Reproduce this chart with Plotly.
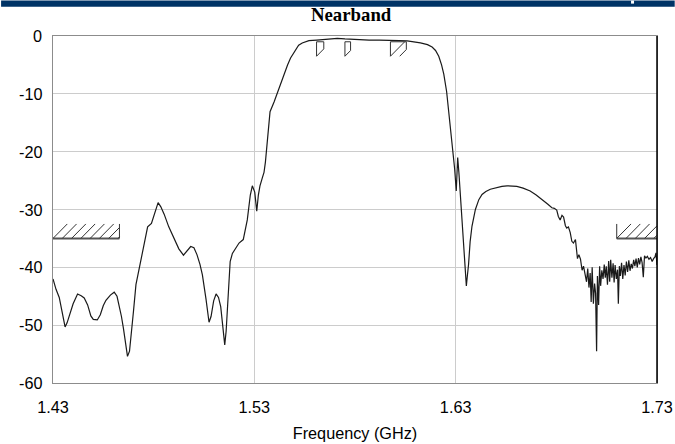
import plotly.graph_objects as go

# ---------------- data ----------------
freq = [1.4300, 1.4315, 1.4331, 1.4345, 1.4360, 1.4370, 1.4381, 1.4400, 1.4422, 1.4440,
        1.4455, 1.4472, 1.4488, 1.4500, 1.4520, 1.4535, 1.4550, 1.4563, 1.4585, 1.4604,
        1.4618, 1.4629, 1.4640, 1.4650, 1.4662, 1.4670, 1.4680, 1.4690, 1.4700, 1.4712,
        1.4724, 1.4736, 1.4752, 1.4770, 1.4789, 1.4800, 1.4822, 1.4835, 1.4852, 1.4875,
        1.4902, 1.4925, 1.4948, 1.4965, 1.4984, 1.5000, 1.5015, 1.5030, 1.5042, 1.5060,
        1.5075, 1.5085, 1.5098, 1.5110, 1.5122, 1.5133, 1.5145, 1.5153, 1.5160, 1.5170,
        1.5180, 1.5191, 1.5210, 1.5224, 1.5245, 1.5255, 1.5265, 1.5280, 1.5290, 1.5302,
        1.5312, 1.5320, 1.5328, 1.5340, 1.5348, 1.5355, 1.5361, 1.5370, 1.5378, 1.5398,
        1.5422, 1.5447, 1.5465, 1.5480, 1.5505, 1.5520, 1.5538, 1.5571, 1.5610, 1.5650,
        1.5690, 1.5712, 1.5750, 1.5790, 1.5827, 1.5870, 1.5920, 1.5976, 1.6020, 1.6059,
        1.6095, 1.6125, 1.6160, 1.6183, 1.6200, 1.6216, 1.6230, 1.6241, 1.6255, 1.6270,
        1.6283, 1.6295, 1.6303, 1.6306, 1.6310, 1.6316, 1.6328, 1.6340, 1.6348, 1.6353,
        1.6358, 1.6364, 1.6372, 1.6381, 1.6398, 1.6415, 1.6431, 1.6450, 1.6472, 1.6500,
        1.6530, 1.6555, 1.6580, 1.6604, 1.6635, 1.6670, 1.6700, 1.6736, 1.6758, 1.6778,
        1.6790, 1.6802, 1.6810, 1.6819, 1.6828, 1.6836, 1.6845, 1.6852, 1.6860, 1.6869,
        1.6877, 1.6885, 1.6895, 1.6905, 1.6912, 1.6920, 1.6928, 1.6935, 1.6943, 1.6950,
        1.6956, 1.6962, 1.6968, 1.6973, 1.6978, 1.6984, 1.6990, 1.6995, 1.7000, 1.7004,
        1.7010, 1.7015, 1.7020, 1.7026, 1.7032, 1.7038, 1.7043, 1.7048, 1.7054, 1.7060,
        1.7065, 1.7070, 1.7076, 1.7082, 1.7087, 1.7092, 1.7098, 1.7104, 1.7108, 1.7113,
        1.7118, 1.7124, 1.7130, 1.7136, 1.7142, 1.7148, 1.7154, 1.7160, 1.7166, 1.7172,
        1.7178, 1.7184, 1.7190, 1.7196, 1.7202, 1.7208, 1.7214, 1.7220, 1.7226, 1.7232,
        1.7238, 1.7245, 1.7252, 1.7260, 1.7268, 1.7276, 1.7283, 1.7290, 1.7295, 1.7300]

s21_db = [-42.0, -43.8, -45.2, -47.5, -50.3, -49.6, -48.4, -46.3, -44.6, -44.9,
          -45.3, -46.5, -48.4, -49.0, -49.1, -48.2, -46.6, -45.7, -44.8, -44.3,
          -45.0, -46.5, -48.5, -50.6, -53.8, -55.4, -54.5, -51.5, -47.5, -43.0,
          -40.8, -39.3, -36.0, -33.0, -32.4, -31.3, -28.8, -29.5, -30.8, -33.0,
          -35.2, -36.8, -37.9, -37.2, -36.4, -36.6, -37.8, -39.5, -41.3, -45.5,
          -49.5, -48.5, -45.8, -44.6, -45.2, -46.8, -50.5, -53.4, -51.0, -44.0,
          -39.0, -37.6, -36.6, -35.8, -35.2, -33.5, -31.8, -27.5, -25.9, -27.0,
          -30.3, -27.5, -25.9, -24.5, -23.6, -21.8, -19.5, -15.5, -13.1, -11.4,
          -9.0, -6.7, -5.0, -3.8, -2.3, -1.6, -1.2, -0.8, -0.7, -0.6,
          -0.5, -0.4, -0.5, -0.6, -0.7, -0.7, -0.7, -0.7, -0.8, -0.85,
          -1.0, -1.2, -1.5, -1.9, -2.5, -3.5, -5.0, -6.6, -9.6, -14.3,
          -18.9, -23.0, -26.8, -24.0, -21.0, -23.6, -29.4, -35.3, -40.5, -43.2,
          -41.5, -39.5, -35.5, -32.9, -30.0, -28.3, -27.4, -26.9, -26.5, -26.2,
          -26.0, -25.9, -25.9, -26.0, -26.3, -26.8, -27.5, -28.6, -29.1, -29.7,
          -29.8, -30.1, -31.2, -31.8, -31.0, -31.3, -32.8, -33.2, -33.0, -34.0,
          -35.5, -35.8, -35.2, -38.5, -37.8, -38.6, -40.5, -39.8, -41.5, -42.5,
          -40.2, -43.5, -41.0, -46.0, -40.0, -46.3, -42.8, -44.5, -54.5, -41.5,
          -46.5, -39.8, -43.2, -40.5, -42.0, -39.5, -41.8, -39.8, -43.0, -38.9,
          -42.5, -38.7, -41.8, -39.3, -42.6, -39.6, -42.0, -40.4, -46.3, -39.8,
          -41.5, -39.2, -42.0, -39.6, -41.4, -39.0, -40.8, -38.8, -40.6, -39.4,
          -40.2, -38.7, -39.8, -38.5, -40.0, -38.4, -39.5, -38.2, -39.2, -41.7,
          -38.0, -38.4, -38.1, -38.6, -38.3, -39.0, -38.5, -38.2, -37.5, -39.6]

x_tick_vals = [1.43, 1.53, 1.63, 1.73]
x_tick_text = ["1.43", "1.53", "1.63", "1.73"]
y_tick_vals = [0, -10, -20, -30, -40, -50, -60]

# rejection masks (curve must stay below): start, stop, level (dB)
stop_mask_start = [1.43, 1.710]
stop_mask_stop = [1.463, 1.73]
stop_mask_level = [-35.0, -35.0]

# passband masks (curve must stay above): start, stop, level (dB)
pass_mask_start = [1.5609, 1.5750, 1.5976]
pass_mask_stop = [1.5645, 1.5778, 1.6055]
pass_mask_level = [-1.0, -1.0, -1.0]

# ---------------- layout geometry (page px; viewer shrinks by ~0.985) ----------------
S = 1 / 0.985
FIG_W, FIG_H = round(675 * S), round(444 * S)
L, R, T, B = 52 * S, 657 * S, 35 * S, 378 * S   # plot box edges
PLOT_W, PLOT_H = R - L, B - T

X_RANGE = [1.43, 1.73]
Y_RANGE = [-60, 0]
GHZ_PER_PX = (X_RANGE[1] - X_RANGE[0]) / PLOT_W
DB_PER_PX = (Y_RANGE[1] - Y_RANGE[0]) / PLOT_H
K = GHZ_PER_PX / DB_PER_PX          # GHz per dB for 45-degree hatch
HATCH_H = 2.5                        # dB
HATCH_STEP = 9.3 * S * GHZ_PER_PX    # GHz

def hatch_segments(fa, fb, ybot, ytop):
    xs, ys = [], []
    c = fa
    while c < fb:
        x0, y0 = c, ybot
        x1, y1 = c + K * (ytop - ybot), ytop
        if x1 > fb:
            x1 = fb
            y1 = ybot + (fb - c) / K
        xs += [x0, x1, None]
        ys += [y0, y1, None]
        c += HATCH_STEP
    return xs, ys

fig = go.Figure()

fig.add_trace(go.Scatter(x=freq, y=s21_db, mode="lines",
                         line=dict(color="#1a1a1a", width=1.2),
                         hoverinfo="skip", showlegend=False))

# stopband masks
mx, my, hx, hy = [], [], [], []
for fa, fb, lv in zip(stop_mask_start, stop_mask_stop, stop_mask_level):
    mx += [fa, fb, None]
    my += [lv, lv, None]
    sx, sy = hatch_segments(fa, fb, lv, lv + HATCH_H)
    hx += sx
    hy += sy
    for edge in (fa, fb):
        if X_RANGE[0] < edge < X_RANGE[1]:
            hx += [edge, edge, None]
            hy += [lv, lv + HATCH_H, None]
fig.add_trace(go.Scatter(x=mx, y=my, mode="lines",
                         line=dict(color="#555555", width=2),
                         hoverinfo="skip", showlegend=False))

# passband masks
for fa, fb, lv in zip(pass_mask_start, pass_mask_stop, pass_mask_level):
    bot = lv - HATCH_H
    hx += [fa, fa, fb, None]
    hy += [bot, lv, lv, None]
    sx, sy = hatch_segments(fa, fb, bot, lv)
    hx += sx
    hy += sy
    low_right = min([yy for xx, yy in zip(sx, sy) if xx is not None and abs(xx - fb) < 1e-9] + [lv])
    hx += [fb, fb, None]
    hy += [lv, low_right, None]
fig.add_trace(go.Scatter(x=hx, y=hy, mode="lines",
                         line=dict(color="#333333", width=1),
                         hoverinfo="skip", showlegend=False))

FONT = "Liberation Sans, Arial"
FS = 16 * S

# y tick labels (right-aligned column)
for v in y_tick_vals:
    fig.add_annotation(x=(43 * S - L) / PLOT_W, xref="paper", y=v, yref="y",
                       text=str(v), showarrow=False, xanchor="right", yanchor="middle",
                       font=dict(family=FONT, size=FS, color="#000000"))

fig.update_layout(
    width=FIG_W, height=FIG_H,
    margin=dict(l=L, r=FIG_W - R, t=T, b=FIG_H - B, pad=0),
    paper_bgcolor="white", plot_bgcolor="white",
    title=dict(text="<b>Nearband</b>", x=346 / 675, xref="container", xanchor="center",
               y=1 - 14 / 444, yref="container", yanchor="middle",
               font=dict(family="Liberation Serif, Times New Roman", size=18.5 * S, color="#000000")),
    font=dict(family=FONT, size=FS, color="#000000"),
    xaxis=dict(range=X_RANGE, tickvals=x_tick_vals, ticktext=x_tick_text,
               showgrid=True, gridcolor="#cccccc", gridwidth=1, zeroline=False,
               showline=True, linecolor="#8c8c8c", linewidth=1, mirror=True,
               ticks="", ticklabelstandoff=10,
               title=dict(text="Frequency (GHz)", standoff=11 * S,
                          font=dict(size=FS))),
    yaxis=dict(range=Y_RANGE, tickvals=y_tick_vals, showticklabels=False,
               showgrid=True, gridcolor="#cccccc", gridwidth=1, zeroline=False,
               showline=True, linecolor="#8c8c8c", linewidth=1, mirror=True,
               ticks=""),
)

# frame: black right edge, navy header strip
fig.add_shape(type="line", xref="paper", yref="paper", x0=1, x1=1, y0=0, y1=1,
              line=dict(color="#000000", width=1.5))
fig.add_shape(type="rect", xref="paper", yref="paper",
              x0=-L / PLOT_W, x1=(FIG_W - L) / PLOT_W,
              y0=(T - 6 * S) / PLOT_H + 1, y1=T / PLOT_H + 1,
              fillcolor="#003366", line=dict(width=0), layer="above")
fig.add_shape(type="rect", xref="paper", yref="paper",
              x0=(631 * S - L) / PLOT_W, x1=(634 * S - L) / PLOT_W,
              y0=(T - 3 * S) / PLOT_H + 1, y1=T / PLOT_H + 1,
              fillcolor="#ffffff", line=dict(width=0), layer="above")

page_css = ("document.documentElement.style.margin='0px';"
            "document.documentElement.style.overflow='hidden';"
            "document.body.style.margin='0px';"
            "document.body.style.padding='0px';"
            "document.body.style.overflow='hidden';")

fig.write_html("out.html", config={"displayModeBar": False}, post_script=page_css)
